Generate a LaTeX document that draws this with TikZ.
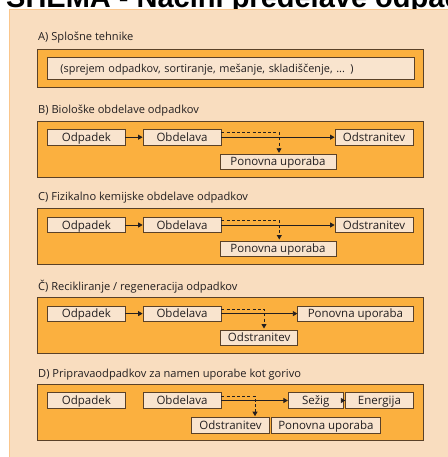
\documentclass[tikz,border=0pt]{standalone}
\usepackage{fontspec}
\usetikzlibrary{arrows.meta}
\newfontfamily\boxfont{Open Sans}
\newfontfamily\titlefont{Liberation Sans}

\definecolor{paper}{HTML}{F9DDBF}
\definecolor{paperedge}{HTML}{FAC68C}
\definecolor{band}{HTML}{FBB03F}
\definecolor{ink}{HTML}{5A4128}
\definecolor{cell}{HTML}{F9E4CE}
\definecolor{txt}{HTML}{231F20}

\tikzset{
  stage/.style={draw=ink, line width=0.9pt, fill=band},
  cell/.style={draw=ink, line width=0.8pt, fill=cell, inner sep=0pt,
    text height=11pt, text depth=2.8pt,
    text=txt, font=\boxfont\fontsize{11.5}{13}\selectfont},
  heading/.style={anchor=west, inner sep=0pt, text=txt,
    font=\boxfont\fontsize{11.1}{13}\selectfont},
  flow/.style={draw=txt, line width=0.8pt,
    -{Triangle[width=5pt,length=4.5pt]}},
  side/.style={flow, dashed, dash pattern=on 3pt off 2.2pt, shorten >=1.5pt},
}

\begin{document}
\begin{tikzpicture}[x=1pt, y=-1pt]
\useasboundingbox (0,0) rectangle (447,457);

% sheet
\fill[paper] (9.5,9.5) rectangle (449,459);
\draw[paperedge, line width=1pt] (9.5,459) -- (9.5,9.5) -- (449,9.5);

% heading of the sheet, running off the top edge
\begin{scope}
  \clip (0,0) rectangle (447,8.6);
  \node[anchor=base west, inner sep=0pt, text=black,
        font=\titlefont\bfseries\fontsize{29}{32}\selectfont]
        (title) at (6,7.6) {SHEMA - Načini predelave odpadkov};
\end{scope}

% A) general techniques
\node[heading] (la) at (38,38) {A) Splošne tehnike};
\draw[stage] (37,49) rectangle (423,87);
\node[cell, minimum width=367, minimum height=22, anchor=north west,
      text width=357, align=left, font=\boxfont\fontsize{10.9}{12}\selectfont]
      (ga) at (47,57) {\hspace*{8pt}(sprejem odpadkov, sortiranje, mešanje, skladiščenje, ... )};

% B) biological treatment
\begin{scope}[shift={(0,121.7)}]
  \node[heading] (lb) at (38,-11.5) {B) Biološke obdelave odpadkov};
  \draw[stage] (37,0) rectangle (423,55.3);
  \node[cell, minimum width=77.3, minimum height=15.7] (b1) at (86.4,15.5) {Odpadek};
  \node[cell, minimum width=78, minimum height=15.7] (b2) at (182,15.5) {Obdelava};
  \node[cell, minimum width=78, minimum height=15.7] (b3) at (374,15.5) {Odstranitev};
  \node[cell, minimum width=116, minimum height=15] (b4) at (278,40.1) {Ponovna uporaba};
  \coordinate (bt) at (279,32.6);
  \draw[flow] (b1) -- (b2);
  \draw[flow] (b2) -- (b3);
  \draw[side] ([yshift=4.5pt]b2.east) -| (bt);
\end{scope}

% C) physico-chemical treatment
\begin{scope}[shift={(0,208.3)}]
  \node[heading] (lc) at (38,-10.5) {C) Fizikalno kemijske obdelave odpadkov};
  \draw[stage] (37,0) rectangle (423,55.7);
  \node[cell, minimum width=77.3, minimum height=15.4] (c1) at (86.4,16.7) {Odpadek};
  \node[cell, minimum width=78, minimum height=15.4] (c2) at (182,16.7) {Obdelava};
  \node[cell, minimum width=78, minimum height=15.4] (c3) at (374,16.7) {Odstranitev};
  \node[cell, minimum width=116, minimum height=15] (c4) at (278,40.2) {Ponovna uporaba};
  \coordinate (ct) at (279.3,32.7);
  \draw[flow] (c1) -- (c2);
  \draw[flow] (c2) -- (c3);
  \draw[side] ([yshift=4.5pt]c2.east) -| (ct);
\end{scope}

% Č) recycling / regeneration
\begin{scope}[shift={(0,297.7)}]
  \node[heading] (lcc) at (38,-11) {Č) Recikliranje / regeneracija odpadkov};
  \draw[stage] (37,0) rectangle (423,55.6);
  \node[cell, minimum width=77.3, minimum height=15.2] (d1) at (86.4,15.9) {Odpadek};
  \node[cell, minimum width=78, minimum height=15.2] (d2) at (182,15.9) {Obdelava};
  \node[cell, minimum width=115.3, minimum height=15.2] (d3) at (355.4,15.9) {Ponovna uporaba};
  \node[cell, minimum width=77, minimum height=15] (d4) at (259.2,39.8) {Odstranitev};
  \coordinate (dt) at (264,32.3);
  \draw[flow] (d1) -- (d2);
  \draw[flow] (d2) -- (d3);
  \draw[side] ([yshift=4.5pt]d2.east) -| (dt);
\end{scope}

% D) preparation of waste for use as fuel
\begin{scope}[shift={(0,384.3)}]
  \node[heading] (ld) at (38,-9.3) {D) Pripravaodpadkov za namen uporabe kot gorivo};
  \draw[stage] (37,0) rectangle (423,56.4);
  \node[cell, minimum width=77.3, minimum height=15.6] (e1) at (86.4,16.2) {Odpadek};
  \node[cell, minimum width=78, minimum height=15.6] (e2) at (182,16.2) {Obdelava};
  \node[cell, minimum width=55, minimum height=15.6] (e3) at (315.8,16.2) {Sežig};
  \node[cell, minimum width=67.3, minimum height=15.6] (e4) at (379.4,16.2) {Energija};
  \node[cell, minimum width=77.6, minimum height=15.6] (e5) at (230.5,41.2) {Odstranitev};
  \node[cell, minimum width=108.3, minimum height=15.6] (e6) at (325.9,41.2) {Ponovna uporaba};
  \coordinate (et) at (255,33.4);
  \draw[flow] (e2) -- (e3);
  \draw[flow] (e3) -- (e4);
  \draw[side] ([yshift=4.5pt]e2.east) -| (et);
\end{scope}
\end{tikzpicture}
\end{document}
